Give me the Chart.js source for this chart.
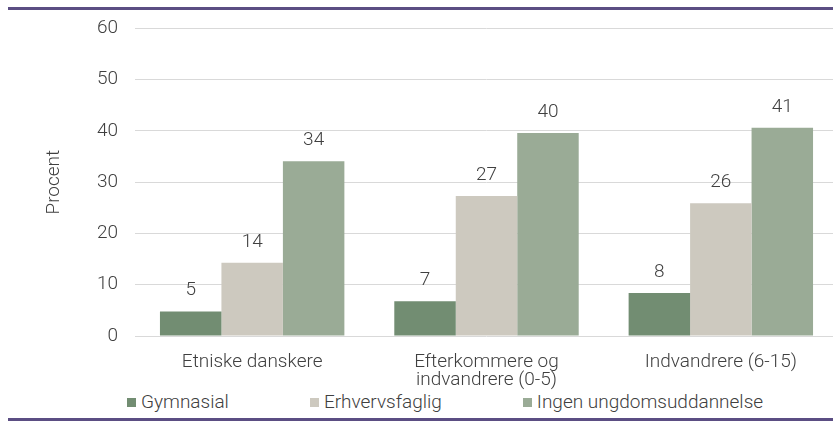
<!DOCTYPE html>
<html>
<head>
<meta charset="utf-8">
<script src="https://cdn.jsdelivr.net/npm/chart.js@4"></script>
<style>
  body { margin: 0; background: #fff; overflow: hidden; }
  .wrap { position: relative; width: 833px; height: 421px; overflow: hidden; }
  .rule { position: absolute; left: 8px; right: 0; height: 3px; background: #5b4e83; }
  #chart { position: absolute; left: 0; top: 0; }
  .legend { position: absolute; left: 127px; top: 392px; width: 700px; display: flex; white-space: nowrap; line-height: 20px; font-family: Roboto, sans-serif; font-weight: 300; font-size: 19px; color: #404040; }
  .legend span.item { display: flex; align-items: center; margin-right: 81px; flex: none; }
  .legend span.box { width: 9px; height: 9px; margin-right: 5px; }
</style>
</head>
<body>
<div class="wrap">
  <div class="rule" style="top:7px"></div>
  <canvas id="chart" width="845" height="390"></canvas>
  <div class="legend" id="legend"></div>
  <div class="rule" style="top:418px"></div>
</div>
<script>
const categories = ['Etniske danskere', ['Efterkommere og', 'indvandrere (0-5)'], 'Indvandrere (6-15)'];
const seriesNames = ['Gymnasial', 'Erhvervsfaglig', 'Ingen ungdomsuddannelse'];
const gymnasial = [4.8, 6.8, 8.4];
const erhvervsfaglig = [14.3, 27.3, 25.9];
const ingen = [34.1, 39.6, 40.6];
const colors = ['#728d72', '#cdc9bf', '#9aab96'];

const textColor = '#404040';
const font = { family: 'Roboto, sans-serif', size: 19, weight: 300 };

// draws the rounded value above each bar
const barLabels = {
    id: 'barLabels',
    afterDatasetsDraw(chart) {
        const ctx = chart.ctx;
        ctx.save();
        ctx.font = '300 19px Roboto, sans-serif';
        ctx.fillStyle = textColor;
        ctx.textAlign = 'center';
        ctx.textBaseline = 'alphabetic';
        chart.data.datasets.forEach((ds, i) => {
            chart.getDatasetMeta(i).data.forEach((bar, j) => {
                ctx.fillText(Math.round(ds.data[j]), bar.x, bar.y - 16);
            });
        });
        ctx.restore();
    }
};

const data = {
    labels: categories,
    datasets: [
        { label: seriesNames[0], data: gymnasial, backgroundColor: colors[0] },
        { label: seriesNames[1], data: erhvervsfaglig, backgroundColor: colors[1] },
        { label: seriesNames[2], data: ingen, backgroundColor: colors[2] }
    ]
};

const config = {
    type: 'bar',
    data: data,
    options: {
        responsive: false,
        animation: false,
        devicePixelRatio: 1,
        layout: { padding: { left: 40, top: 27, right: 7, bottom: 0 } },
        categoryPercentage: 0.787,
        barPercentage: 1.0,
        plugins: {
            legend: { display: false },
            tooltip: { enabled: false }
        },
        scales: {
            x: {
                grid: { display: false },
                border: { display: false },
                ticks: { color: textColor, font: { family: 'Roboto, sans-serif', size: 19, weight: 300, lineHeight: 0.97 }, padding: 9, maxRotation: 0, autoSkip: false },
                afterFit(scale) { scale.height = 54; }
            },
            y: {
                min: 0,
                max: 60,
                ticks: { stepSize: 10, color: textColor, font: font, padding: 17 },
                grid: { color: '#d9d9d9', lineWidth: 1, drawTicks: false },
                border: { display: false },
                title: { display: true, text: 'Procent', color: textColor, font: font, padding: { top: 3, bottom: 0 } },
                afterFit(scale) { scale.width = 95; }
            }
        }
    },
    plugins: [barLabels]
};

const myChart = new Chart(document.getElementById('chart').getContext('2d'), config);

// legend built from the same series arrays
let html = '';
for (let i = 0; i < seriesNames.length; i++) {
    html += '<span class="item"><span class="box" style="background:' + colors[i] + '"></span>' + seriesNames[i] + '</span>';
}
document.getElementById('legend').innerHTML = html;
</script>
</body>
</html>
